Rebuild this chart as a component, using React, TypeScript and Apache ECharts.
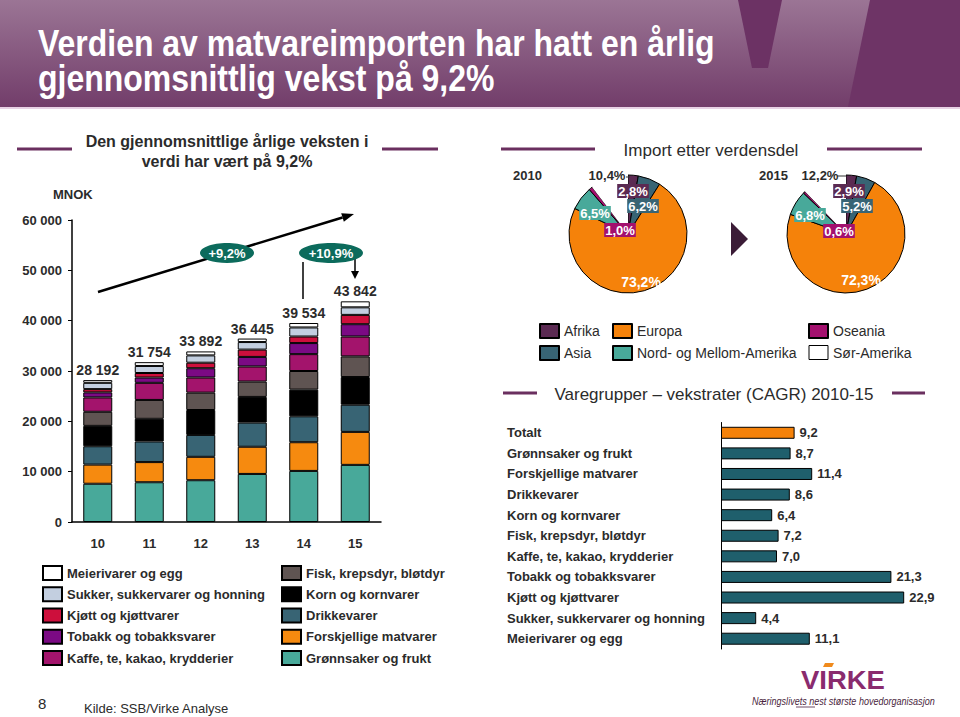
import React, { useEffect, useRef } from "react";
import * as echarts from "echarts";

const FONT = '"Liberation Sans", Arial, Helvetica, sans-serif';
const TXT = "#2b2b2b";

// ---------- texts ----------
const TITLE_1 = "Verdien av matvareimporten har hatt en årlig";
const TITLE_2 = "gjennomsnittlig vekst på 9,2%";
const LEFT_TITLE_1 = "Den gjennomsnittlige årlige veksten i";
const LEFT_TITLE_2 = "verdi har vært på 9,2%";
const PIE_TITLE = "Import etter verdensdel";
const CAGR_TITLE = "Varegrupper – vekstrater (CAGR) 2010-15";
const GROWTH_LABELS = ["+9,2%", "+10,9%"];

// ---------- stacked bars (MNOK) ----------
const YEARS = ["10", "11", "12", "13", "14", "15"];
const TOTALS = [28192, 31754, 33892, 36445, 39534, 43842];
const GRONNSAKER = [7600, 7900, 8300, 9550, 10150, 11350];
const FORSKJELLIGE = [3800, 4000, 4650, 5400, 5700, 6550];
const DRIKKE = [3650, 4100, 4350, 4800, 5150, 5400];
const KORN = [4050, 4500, 4950, 5100, 5300, 5500];
const FISK = [2800, 3750, 3450, 3050, 3700, 4100];
const KAFFE = [2850, 3400, 3000, 3000, 3350, 3950];
const TOBAKK = [1000, 1050, 1850, 1900, 2200, 2450];
const KJOTT = [650, 900, 1100, 1450, 1300, 1850];
const SUKKER = [1250, 1400, 1450, 1500, 1800, 1500];
const MEIERI = [542, 754, 792, 695, 884, 1192];

const STACK_NAMES = [
  "Grønnsaker og frukt",
  "Forskjellige matvarer",
  "Drikkevarer",
  "Korn og kornvarer",
  "Fisk, krepsdyr, bløtdyr",
  "Kaffe, te, kakao, krydderier",
  "Tobakk og tobakksvarer",
  "Kjøtt og kjøttvarer",
  "Sukker, sukkervarer og honning",
  "Meierivarer og egg",
];
const STACK_DATA = [GRONNSAKER, FORSKJELLIGE, DRIKKE, KORN, FISK, KAFFE, TOBAKK, KJOTT, SUKKER, MEIERI];
const STACK_COLORS = ["#48a99a", "#f68a0f", "#386474", "#000000", "#5f5452", "#a3146c", "#7b0a84", "#cd0f3c", "#c3cfe0", "#ffffff"];
const LEGEND_COL1 = ["Meierivarer og egg", "Sukker, sukkervarer og honning", "Kjøtt og kjøttvarer", "Tobakk og tobakksvarer", "Kaffe, te, kakao, krydderier"];
const LEGEND_COL2 = ["Fisk, krepsdyr, bløtdyr", "Korn og kornvarer", "Drikkevarer", "Forskjellige matvarer", "Grønnsaker og frukt"];

// ---------- pies (%) ----------
const PIE_YEARS = ["2010", "2015"];
const PIE_NAMES = ["Afrika", "Asia", "Europa", "Nord- og Mellom-Amerika", "Oseania", "Sør-Amerika"];
const PIE_2010 = [2.8, 6.2, 73.2, 6.5, 1.0, 10.4];
const PIE_2015 = [2.9, 5.2, 72.3, 6.8, 0.6, 12.2];
const PIE_COLORS = ["#5b2a52", "#386474", "#f5820a", "#48a99a", "#a3106e", "#ffffff"];

// ---------- CAGR bars ----------
const CAGR_CATS = [
  "Totalt",
  "Grønnsaker og frukt",
  "Forskjellige matvarer",
  "Drikkevarer",
  "Korn og kornvarer",
  "Fisk, krepsdyr, bløtdyr",
  "Kaffe, te, kakao, krydderier",
  "Tobakk og tobakksvarer",
  "Kjøtt og kjøttvarer",
  "Sukker, sukkervarer og honning",
  "Meierivarer og egg",
];
const CAGR_VALUES = [9.2, 8.7, 11.4, 8.6, 6.4, 7.2, 7.0, 21.3, 22.9, 4.4, 11.1];

const fmtThousands = (v: number) => String(v).replace(/\B(?=(\d{3})+(?!\d))/g, " ");
const fmtPct = (v: number) => v.toFixed(1).replace(".", ",") + "%";
const fmtDec = (v: number) => v.toFixed(1).replace(".", ",");

function measure(text: string, font: string) {
  const c = document.createElement("canvas").getContext("2d");
  if (!c) return 1;
  c.font = font;
  return c.measureText(text).width || 1;
}

function txt(x: number, y: number, text: string, o: any = {}) {
  return {
    type: "text",
    x,
    y,
    scaleX: o.scaleX ?? 1,
    z: o.z ?? 10,
    style: {
      text,
      fill: o.fill ?? TXT,
      fontSize: o.size ?? 13,
      fontWeight: o.weight ?? "normal",
      fontStyle: o.style ?? "normal",
      fontFamily: FONT,
      textAlign: o.align ?? "left",
      textVerticalAlign: "middle",
      backgroundColor: o.bg,
      padding: o.bg ? [1, 1, 0, 1] : 0,
    },
  };
}

function hline(x1: number, x2: number, y: number, color = "#6a2f5f", w = 3) {
  return { type: "line", z: 5, shape: { x1, y1: y, x2, y2: y }, style: { stroke: color, lineWidth: w } };
}

export default function App() {
  const ref = useRef<HTMLDivElement>(null);

  useEffect(() => {
    if (!ref.current) return;
    const chart = echarts.init(ref.current, null, { renderer: "svg" });

    const titleFont = `bold 36px ${FONT}`;
    const titleScale = 677 / measure(TITLE_1, titleFont);
    const tagline = "Næringslivets nest største hovedorganisasjon";
    const tagScale = 183 / measure(tagline, `italic 10px ${FONT}`);
    const virkeScale = 84 / measure("VIRKE", `bold 25px ${FONT}`);

    // arrow geometry (annotation)
    const ax1 = 98, ay1 = 292, ax2 = 354, ay2 = 214;
    const dx = ax2 - ax1, dy = ay2 - ay1, L = Math.hypot(dx, dy);
    const ux = dx / L, uy = dy / L, nx = -uy, ny = ux;
    const bx = ax2 - 12 * ux, by = ay2 - 12 * uy;

    const pieLabel = (x: number, y: number, v: number, bg?: string, fill = "#fff") =>
      txt(x, y, fmtPct(v), { align: "center", weight: "bold", size: 13, fill, bg, z: 20 });

    const graphic: any[] = [
      // header
      {
        type: "rect",
        z: 1,
        shape: { x: 0, y: 0, width: 960, height: 107 },
        style: {
          fill: { type: "linear", x: 0, y: 0, x2: 0, y2: 1, colorStops: [{ offset: 0, color: "#9b7595" }, { offset: 1, color: "#723d6a" }] },
        },
      },
      { type: "polygon", z: 2, shape: { points: [[738, 0], [782, 0], [768, 68], [752, 68]] }, style: { fill: "#6c3264" } },
      { type: "polygon", z: 2, shape: { points: [[870, 0], [960, 0], [960, 107], [848, 107]] }, style: { fill: "#6e3466" } },
      { type: "rect", z: 2, shape: { x: 0, y: 107, width: 960, height: 2 }, style: { fill: "#e8d2e5" } },
      txt(38, 43, TITLE_1, { size: 36, weight: "bold", fill: "#ffffff", scaleX: titleScale }),
      txt(38, 78, TITLE_2, { size: 36, weight: "bold", fill: "#ffffff", scaleX: titleScale }),

      // left panel titles
      txt(227, 141, LEFT_TITLE_1, { size: 16, weight: "bold", align: "center" }),
      txt(227, 161, LEFT_TITLE_2, { size: 16, weight: "bold", align: "center" }),
      hline(17, 72, 149),
      hline(382, 438, 149),
      txt(53, 194, "MNOK", { weight: "bold" }),

      // growth arrow
      { type: "line", z: 8, shape: { x1: ax1, y1: ay1, x2: bx, y2: by }, style: { stroke: "#000", lineWidth: 2.5 } },
      {
        type: "polygon",
        z: 8,
        shape: { points: [[ax2, ay2], [bx + 4.5 * nx, by + 4.5 * ny], [bx - 4.5 * nx, by - 4.5 * ny]] },
        style: { fill: "#000" },
      },
      { type: "ellipse", z: 9, shape: { cx: 227, cy: 253, rx: 27, ry: 10 }, style: { fill: "#0c6b5c" } },
      txt(227, 253, GROWTH_LABELS[0], { align: "center", weight: "bold", fill: "#fff", z: 11 }),
      { type: "line", z: 8, shape: { x1: 303, y1: 262, x2: 303, y2: 299 }, style: { stroke: "#000", lineWidth: 1.5 } },
      { type: "line", z: 8, shape: { x1: 355, y1: 258, x2: 355, y2: 272 }, style: { stroke: "#000", lineWidth: 1.5 } },
      { type: "polygon", z: 8, shape: { points: [[351, 271], [359, 271], [355, 279]] }, style: { fill: "#000" } },
      { type: "ellipse", z: 9, shape: { cx: 331, cy: 253, rx: 32, ry: 10 }, style: { fill: "#0c6b5c" } },
      txt(331, 253, GROWTH_LABELS[1], { align: "center", weight: "bold", fill: "#fff", z: 11 }),

      // pie panel
      txt(711, 150, PIE_TITLE, { size: 17, align: "center" }),
      hline(501, 595, 149),
      hline(827, 922, 149),
      txt(513, 175, PIE_YEARS[0], { weight: "bold" }),
      txt(759, 175, PIE_YEARS[1], { weight: "bold" }),
      { type: "polygon", z: 5, shape: { points: [[731, 222], [748, 239], [731, 256]] }, style: { fill: "#3b1c37" } },

      pieLabel(607, 175, PIE_2010[5], undefined, TXT),
      hline(626, 630, 177, "#333", 1),
      pieLabel(633, 191, PIE_2010[0], PIE_COLORS[0]),
      pieLabel(643, 206, PIE_2010[1], PIE_COLORS[1]),
      pieLabel(595, 213, PIE_2010[3], PIE_COLORS[3]),
      pieLabel(620, 230, PIE_2010[4], PIE_COLORS[4]),
      txt(641, 282, fmtPct(PIE_2010[2]), { align: "center", weight: "bold", size: 14, fill: "#fff", z: 20 }),

      pieLabel(820, 175, PIE_2015[5], undefined, TXT),
      hline(837, 846, 176, "#333", 1),
      pieLabel(849, 191, PIE_2015[0], PIE_COLORS[0]),
      pieLabel(857, 206, PIE_2015[1], PIE_COLORS[1]),
      pieLabel(810, 215, PIE_2015[3], PIE_COLORS[3]),
      pieLabel(839, 231, PIE_2015[4], PIE_COLORS[4]),
      txt(861, 280, fmtPct(PIE_2015[2]), { align: "center", weight: "bold", size: 14, fill: "#fff", z: 20 }),

      // CAGR panel
      txt(714, 394, CAGR_TITLE, { size: 17, align: "center" }),
      hline(503, 537, 393),
      hline(892, 925, 393),

      // footer
      txt(38, 703, "8", { size: 15 }),
      txt(84, 708, "Kilde: SSB/Virke Analyse", { size: 13 }),

      // Virke logo
      { type: "polygon", z: 12, shape: { points: [[823, 667], [832, 667], [834, 663], [825, 663]] }, style: { fill: "#f08a1c" } },
      txt(801, 680, "VIRKE", { size: 25, weight: "bold", fill: "#8a2b6e", scaleX: virkeScale }),
      txt(752, 701, tagline, { size: 10, style: "italic", fill: "#4a1f40", scaleX: tagScale }),
      hline(796, 815, 707, "#4a1f40", 0.8),
    ];

    const stackSeries = STACK_NAMES.map((name, i) => ({
      name,
      type: "bar",
      stack: "total",
      xAxisIndex: 0,
      yAxisIndex: 0,
      barWidth: 29,
      data: STACK_DATA[i],
      itemStyle: { color: STACK_COLORS[i], borderColor: "#000", borderWidth: 1 },
      label:
        i === STACK_NAMES.length - 1
          ? {
              show: true,
              position: "top",
              distance: 3,
              formatter: (p: any) => fmtThousands(TOTALS[p.dataIndex]),
              fontSize: 14,
              fontWeight: "bold",
              fontFamily: FONT,
              color: TXT,
            }
          : { show: false },
    }));

    const pieSeries = [PIE_2010, PIE_2015].map((vals, k) => ({
      name: "Import " + PIE_YEARS[k],
      type: "pie",
      center: [k === 0 ? 628 : 846, 234],
      radius: 59,
      startAngle: 90,
      clockwise: true,
      label: { show: false },
      labelLine: { show: false },
      data: vals.map((v, i) => ({
        name: PIE_NAMES[i],
        value: v,
        itemStyle: { color: PIE_COLORS[i], borderColor: "#000", borderWidth: i === 5 ? 0 : 1 },
      })),
    }));

    const legendBase = {
      orient: "vertical",
      icon: "rect",
      itemWidth: 19,
      itemHeight: 14,
      selectedMode: false,
      padding: 0,
    };
    const boxed = (name: string) => ({ name, itemStyle: { borderColor: "#000", borderWidth: 1 } });

    const option: any = {
      animation: false,
      backgroundColor: "#ffffff",
      textStyle: { fontFamily: FONT },
      grid: [
        { left: 72, top: 220, width: 309, height: 302 },
        { left: 721, top: 422.5, width: 200, height: 226.5 },
      ],
      xAxis: [
        {
          type: "category",
          gridIndex: 0,
          data: YEARS,
          axisLine: { lineStyle: { color: "#000", width: 1.5 } },
          axisTick: { show: false },
          axisLabel: { fontSize: 13, fontWeight: "bold", color: TXT, margin: 15, fontFamily: FONT },
        },
        { type: "value", gridIndex: 1, min: 0, max: 25, show: false },
      ],
      yAxis: [
        {
          type: "value",
          gridIndex: 0,
          min: 0,
          max: 60000,
          interval: 10000,
          axisLine: { show: true, lineStyle: { color: "#000", width: 1.5 } },
          axisTick: { show: true, length: 4, lineStyle: { color: "#000" } },
          splitLine: { show: false },
          axisLabel: {
            formatter: (v: number) => fmtThousands(v),
            fontSize: 13,
            fontWeight: "bold",
            color: TXT,
            margin: 10,
            fontFamily: FONT,
          },
        },
        {
          type: "category",
          gridIndex: 1,
          data: CAGR_CATS,
          inverse: true,
          axisLine: { show: true, lineStyle: { color: "#000", width: 1 } },
          axisTick: { show: false },
          axisLabel: { align: "left", margin: 214, fontSize: 13, fontWeight: "bold", color: TXT, fontFamily: FONT },
        },
      ],
      legend: [
        {
          ...legendBase,
          left: 42,
          top: 565,
          itemGap: 5.25,
          data: LEGEND_COL1,
          textStyle: { fontSize: 13, fontWeight: "bold", color: TXT, fontFamily: FONT, lineHeight: 14, height: 14 },
        },
        {
          ...legendBase,
          left: 281,
          top: 565,
          itemGap: 5.25,
          data: LEGEND_COL2,
          textStyle: { fontSize: 13, fontWeight: "bold", color: TXT, fontFamily: FONT, lineHeight: 14, height: 14 },
        },
        {
          ...legendBase,
          left: 539,
          top: 323,
          itemGap: 6,
          data: [PIE_NAMES[0], PIE_NAMES[1]],
          textStyle: { fontSize: 14, color: TXT, fontFamily: FONT, lineHeight: 14, height: 14 },
        },
        {
          ...legendBase,
          left: 612,
          top: 323,
          itemGap: 6,
          data: [PIE_NAMES[2], PIE_NAMES[3]],
          textStyle: { fontSize: 14, color: TXT, fontFamily: FONT, lineHeight: 14, height: 14 },
        },
        {
          ...legendBase,
          left: 808,
          top: 323,
          itemGap: 6,
          data: [PIE_NAMES[4], boxed(PIE_NAMES[5])],
          textStyle: { fontSize: 14, color: TXT, fontFamily: FONT, lineHeight: 14, height: 14 },
        },
      ],
      series: [
        ...stackSeries,
        ...pieSeries,
        {
          name: "CAGR 2010-15",
          type: "bar",
          xAxisIndex: 1,
          yAxisIndex: 1,
          barWidth: 12,
          data: CAGR_VALUES.map((v, i) => ({
            value: v,
            itemStyle: { color: i === 0 ? "#f5820a" : "#1f5f6c" },
          })),
          itemStyle: { borderColor: "#000", borderWidth: 1 },
          label: {
            show: true,
            position: "right",
            distance: 5,
            formatter: (p: any) => fmtDec(p.value),
            fontSize: 13,
            fontWeight: "bold",
            color: TXT,
            fontFamily: FONT,
          },
        },
      ],
      graphic,
    };

    chart.setOption(option);
    return () => chart.dispose();
  }, []);

  return <div ref={ref} style={{ position: "absolute", left: 0, top: 0, width: 960, height: 717 }} />;
}
